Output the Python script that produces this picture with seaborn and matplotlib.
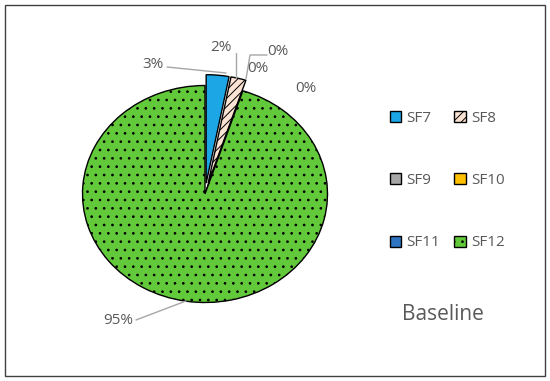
import numpy as np
import matplotlib
matplotlib.use("Agg")
import matplotlib.pyplot as plt
import seaborn as sns
from matplotlib.patches import Rectangle

categories = ["SF7", "SF8", "SF9", "SF10", "SF11", "SF12"]
values = [3, 2, 0, 0, 0, 95]
pct_labels = ["3%", "2%", "0%", "0%", "0%", "95%"]
title_text = "Baseline"

sns.set_theme(style="white")
plt.rcParams["font.family"] = ["Open Sans", "DejaVu Sans"]
plt.rcParams["hatch.linewidth"] = 0.7

colors = ["#1CA6E6", "#FBE3D4", "#A6A6A6", "#FFC000", "#2F74C0", "#62C93A"]
hatches = ["", "////", "", "", "", ".."]
explode = [0.1, 0.1, 0.0, 0.0, 0.0, 0.0]

fig = plt.figure(figsize=(5.5, 3.81), dpi=100)
W, H = 550, 381
# outer frame
fig.patches.append(Rectangle((5 / W, 5 / H), 540 / W, 371 / H, transform=fig.transFigure,
                             fill=False, edgecolor="#404040", linewidth=1.0))

cx, cy, rx, ry = 205, 194, 122.5, 108.5
lim = 1.3
ax = fig.add_axes([(cx - lim * rx) / W, (H - cy - lim * ry) / H, 2 * lim * rx / W, 2 * lim * ry / H])
wedges, _ = ax.pie(values, colors=colors, startangle=90, counterclock=False, explode=explode,
                   wedgeprops=dict(edgecolor="black", linewidth=1.0))
for w, h in zip(wedges, hatches):
    w.set_hatch(h)
ax.set_aspect("auto")
ax.set_xlim(-lim, lim)
ax.set_ylim(-lim, lim)
ax.axis("off")

def px(x, y):
    return ((x - cx) / rx, (cy - y) / ry)

txt_kw = dict(fontsize=11, color="#595959", ha="center", va="center")
lc = "#A6A6A6"

# 3% label
ax.text(*px(153, 64), pct_labels[0], **txt_kw)
ax.plot(*zip(px(167, 67), px(226, 73)), color=lc, lw=1.0)
# 2% label
ax.text(*px(221, 47), pct_labels[1], **txt_kw)
ax.plot(*zip(px(236, 52), px(236, 78)), color=lc, lw=1.0)
# 0% labels
ax.text(*px(278, 51), pct_labels[2], **txt_kw)
ax.plot(*zip(px(267, 55), px(250, 55), px(246, 79)), color=lc, lw=1.0)
ax.text(*px(258, 68), pct_labels[3], **txt_kw)
ax.text(*px(306, 88), pct_labels[4], **txt_kw)
# 95% label
ax.text(*px(118, 320), pct_labels[5], **txt_kw)
ax.plot(*zip(px(136, 320), px(186, 301)), color=lc, lw=1.0)

# row-major legend order (matplotlib fills columns first)
order = [0, 2, 4, 1, 3, 5]
leg = fig.legend([wedges[i] for i in order], [categories[i] for i in order], ncol=2, loc="upper left",
                 bbox_to_anchor=(376 / W, 1 - 97 / H), frameon=False,
                 fontsize=11, labelcolor="#595959", handlelength=0.75, handleheight=0.75,
                 handletextpad=0.35, columnspacing=0.9, labelspacing=3.1)

fig.text(443 / W, 1 - 315 / H, title_text, fontsize=15, color="#595959", ha="center", va="center")

fig.savefig("out.png", dpi=100)
